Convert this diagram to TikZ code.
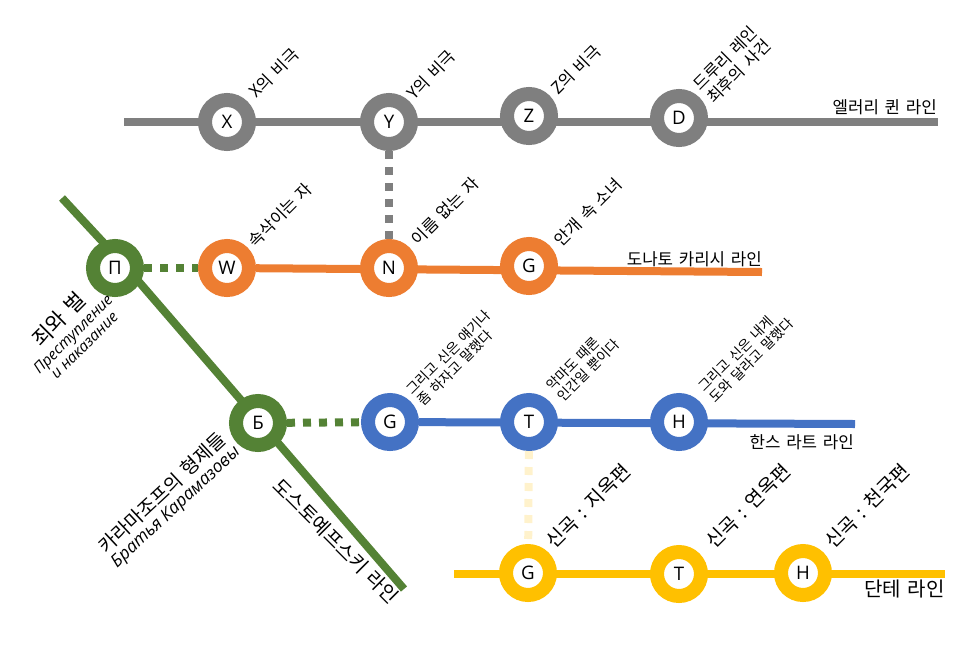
\documentclass[tikz,border=0pt]{standalone}
\usepackage{fontspec}
\setmainfont{Open Sans}
\newfontfamily\kor[WordSpace=1.5]{Noto Sans CJK KR}
\usepackage{tikz}
\usetikzlibrary{positioning, backgrounds}
\definecolor{queenc}{HTML}{7F7F7F}
\definecolor{carrisic}{HTML}{ED7D31}
\definecolor{dostc}{HTML}{548235}
\definecolor{rathc}{HTML}{4472C4}
\definecolor{dantec}{HTML}{FFC000}
\definecolor{dantelight}{HTML}{FFF2CC}
\tikzset{
  station/.style={circle, draw=#1, fill=white, line width=10.5pt, minimum size=33pt, inner sep=0pt, font=\fontsize{14}{16}\selectfont},
  track/.style={line width=6pt, draw=#1},
  transfer/.style={line width=6pt, draw=#1, dash pattern=on 6pt off 6pt},
  booktitle/.style={rotate=45, align=left, inner sep=0pt, font=\fontsize{12.4}{14}\kor},
  smalltitle/.style={rotate=45, align=left, inner sep=0pt, font=\fontsize{10.4}{11.5}\kor},
  bigtitle/.style={rotate=45, align=left, inner sep=0pt, font=\fontsize{14.6}{17}\kor},
  linename/.style={inner sep=0pt, font=\fontsize{12.6}{15}\kor}
}
\begin{document}
\begin{tikzpicture}[x=0.75pt, y=-0.75pt]
            \useasboundingbox (0,0) rectangle (971,644);

            % --- stations ---
            \node (queenx) [station=queenc] at (227,122) {X};
            \node (queeny) [station=queenc] at (389,122) {Y};
            \node (queenz) [station=queenc] at (529,116) {Z};
            \node (queend) [station=queenc] at (679,118) {D};
            \node (dostp) [station=dostc] at (115,268) {П};
            \node (dostb) [station=dostc] at (258,423) {Б};
            \node (carrw) [station=carrisic] at (227,268) {W};
            \node (carrn) [station=carrisic] at (389,268) {N};
            \node (carrg) [station=carrisic] at (529,266) {G};
            \node (rathg) [station=rathc] at (390,422) {G};
            \node (ratht) [station=rathc] at (529,422) {T};
            \node (rathh) [station=rathc] at (679,422) {H};
            \node (danteg) [station=dantec] at (528,573) {G};
            \node (dantet) [station=dantec] at (679,574) {T};
            \node (danteh) [station=dantec] at (803,573) {H};

            % --- ends of the lines ---
            \coordinate (queenstart) at (124,122);
            \coordinate (queenend) at (938,122);
            \coordinate (doststart) at (62,198);
            \coordinate (dostbend) at (127,268);
            \coordinate (dostend) at (404,589);
            \coordinate (carrend) at (762,272);
            \coordinate (rathend) at (855,424);
            \coordinate (dantestart) at (454,574);
            \coordinate (danteend) at (945,574);

            \begin{scope}[on background layer]
                \draw [track=queenc] (queenstart) -- (queenend);
                \draw [track=dostc] (doststart) -- (dostbend) -- (dostend);
                \draw [track=carrisic] (carrw) -- (carrend);
                \draw [track=rathc] (rathg) -- (rathend);
                \draw [track=dantec] (dantestart) -- (danteend);
            \end{scope}

            \draw [transfer=queenc] (queeny) -- (carrn);
            \draw [transfer=dostc] (dostp) -- (carrw);
            \draw [transfer=dostc] (dostb) -- (rathg);
            \draw [transfer=dantelight] (ratht) -- (danteg);

            % --- book titles ---
            \node (titlex) [booktitle] at (274,73) {X의 비극};
            \node (titley) [booktitle] at (431,75) {Y의 비극};
            \node (titlez) [booktitle] at (576,70) {Z의 비극};
            \node (titled) [booktitle] at (732,65) {드루리 레인\\최후의 사건};
            \node (titlew) [booktitle] at (280,215) {속삭이는 자};
            \node (titlen) [booktitle] at (445,211) {이름 없는 자};
            \node (titleg) [booktitle] at (588,212) {안개 속 소녀};
            \node (titlerg) [smalltitle] at (454,358) {그리고 신은 얘기나\\좀 하자고 말했다};
            \node (titlert) [smalltitle] at (583,365) {악마도 때론\\인간일 뿐이다};
            \node (titlerh) [smalltitle] at (746,355) {그리고 신은 내게\\도와 달라고 말했다};
            \node (titledg) [bigtitle] at (588,506) {신곡 : 지옥편};
            \node (titledt) [bigtitle] at (748,506) {신곡 : 연옥편};
            \node (titledh) [bigtitle] at (867,506) {신곡 : 천국편};

            \node (titlecrime) [rotate=45, align=center, inner sep=0pt] at (70,331) {{\fontsize{16}{18}\kor 죄와 벌}\\[1pt]{\fontsize{11.5}{13}\selectfont\itshape Преступление}\\{\fontsize{11.5}{13}\selectfont\itshape и наказание}};
            \node (titlekaram) [rotate=43, align=center, inner sep=0pt] at (169,500) {{\fontsize{14.4}{15}\kor 카라마조프의 형제들}\\[1pt]{\fontsize{13.1}{14}\selectfont\itshape Братья Карамазовы}};

            % --- names of the lines ---
            \node (namequeen) [linename, anchor=east] at (937,107) {엘러리 퀸 라인};
            \node (namecarr) [linename, anchor=east] at (762,259) {도나토 카리시 라인};
            \node (namerath) [linename, anchor=east] at (854,442) {한스 라트 라인};
            \node (namedante) [linename, anchor=east, font=\fontsize{15}{17}\kor] at (945,589) {단테 라인};
            \node (namedost) [rotate=-45, inner sep=0pt, font=\fontsize{14.5}{16}\kor] at (336,541) {도스토예프스키 라인};
        \end{tikzpicture}
\end{document}
